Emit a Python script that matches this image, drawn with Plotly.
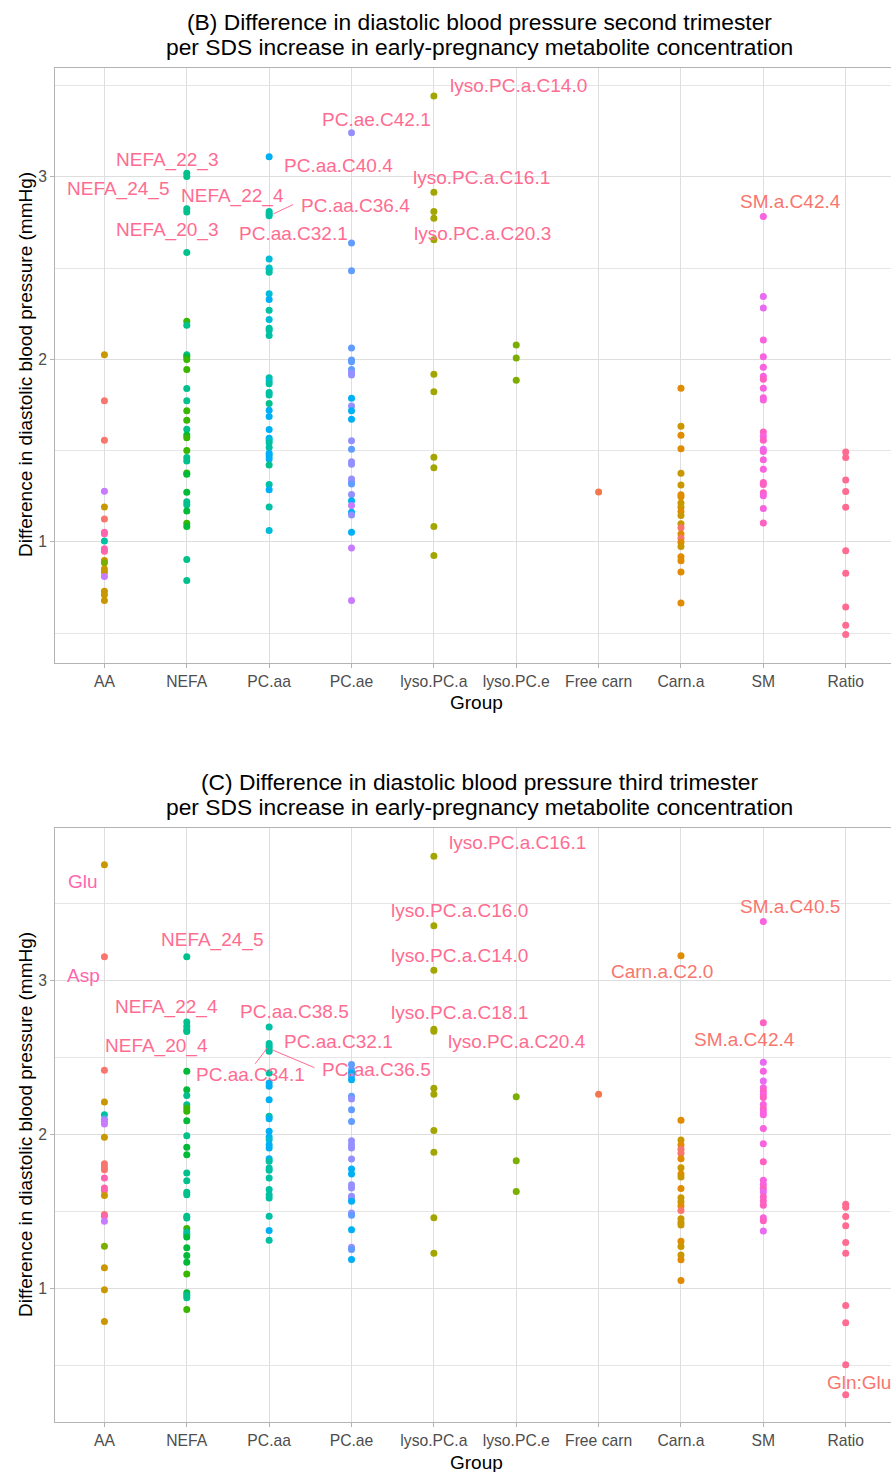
import plotly.graph_objects as go

groups = ["AA", "NEFA", "PC.aa", "PC.ae", "lyso.PC.a", "lyso.PC.e", "Free carn", "Carn.a", "SM", "Ratio"]

palette = {
    "sa": "#F8766D", "or": "#E08B00", "go": "#C99800", "ol": "#A3A500", "li": "#7CAE00",
    "g1": "#00BA38", "g2": "#00C08B", "g3": "#39B600", "te": "#00C1A3", "cy": "#00BCD8",
    "sk": "#00B0F6", "bl": "#619CFF", "pu": "#9590FF", "pv": "#C77CFF", "vi": "#E76BF3",
    "mg": "#F763E0", "pm": "#FF61C3", "pk": "#FF65AE", "rd": "#FF6C91", "fc": "#F2784B",
}

# ---------------- Panel B: second trimester ----------------
b_AA = [2.026, 1.774, 1.557, 1.277, 1.191, 1.126, 1.053, 1.044, 1.005, 0.962, 0.949, 0.898, 0.885,
        0.852, 0.834, 0.810, 0.730, 0.710, 0.679]
b_AA_c = ["go", "sa", "sa", "pv", "go", "sa", "pk", "pk", "te", "pk", "pk", "go", "li", "go", "go",
          "pv", "go", "go", "go"]
b_NEFA = [3.020, 3.002, 2.825, 2.807, 2.586, 2.209, 2.187, 2.026, 2.015, 2.000, 1.945, 1.840, 1.774,
          1.718, 1.667, 1.617, 1.585, 1.570, 1.501, 1.463, 1.443, 1.377, 1.370, 1.272, 1.220, 1.204,
          1.169, 1.102, 1.084, 0.903, 0.789]
b_NEFA_c = ["g2", "g2", "g2", "g2", "g2", "g3", "g2", "g2", "g1", "g3", "g3", "g2", "g2", "g3", "g3",
            "g2", "g1", "g3", "g3", "g2", "g2", "g3", "g1", "g1", "g2", "g2", "g1", "g3", "g1", "g2", "g2"]
b_PCaa = [3.111, 2.810, 2.798, 2.787, 2.550, 2.501, 2.492, 2.477, 2.359, 2.328, 2.269, 2.219, 2.171,
          2.160, 2.131, 1.900, 1.881, 1.867, 1.818, 1.805, 1.758, 1.721, 1.687, 1.616, 1.568, 1.557,
          1.543, 1.517, 1.485, 1.472, 1.454, 1.421, 1.315, 1.286, 1.191, 1.062]
b_PCaa_c = ["sk", "te", "te", "te", "cy", "te", "cy", "te", "cy", "sk", "te", "cy", "te", "te", "te",
            "te", "cy", "te", "te", "te", "g2", "sk", "sk", "sk", "sk", "cy", "te", "te", "sk", "sk",
            "sk", "g2", "te", "sk", "te", "cy"]
b_PCae = [3.242, 2.638, 2.486, 2.062, 1.996, 1.987, 1.945, 1.927, 1.914, 1.787, 1.745, 1.718, 1.672,
          1.554, 1.508, 1.439, 1.426, 1.344, 1.330, 1.317, 1.259, 1.226, 1.199, 1.162, 1.148, 1.053,
          0.967, 0.679]
b_PCae_c = ["pu", "bl", "bl", "bl", "bl", "bl", "bl", "pu", "pu", "sk", "pu", "sk", "sk", "pu", "bl",
            "pu", "pu", "pu", "pu", "bl", "pu", "sk", "pv", "sk", "pu", "sk", "pv", "pv"]
b_lysoa = [3.443, 2.916, 2.810, 2.774, 2.656, 1.918, 1.823, 1.464, 1.406, 1.084, 0.925]
b_lysoe = [2.079, 2.007, 1.885]
b_free = [1.274]
b_carn = [1.842, 1.633, 1.584, 1.511, 1.376, 1.312, 1.258, 1.247, 1.213, 1.190, 1.167, 1.145, 1.100,
          1.077, 1.043, 1.020, 0.998, 0.975, 0.919, 0.896, 0.835, 0.665]
b_carn_c = ["or", "go", "or", "or", "go", "go", "or", "or", "go", "go", "or", "go", "go", "sa", "or",
            "sa", "or", "go", "or", "or", "or", "or"]
b_SM = [2.783, 2.344, 2.281, 2.106, 2.014, 1.957, 1.907, 1.891, 1.842, 1.790, 1.778, 1.602, 1.579,
        1.557, 1.507, 1.495, 1.450, 1.398, 1.326, 1.314, 1.269, 1.253, 1.183, 1.104]
b_SM_c = ["mg", "vi", "vi", "mg", "mg", "mg", "mg", "pm", "mg", "mg", "mg", "pm", "mg", "pm", "vi",
          "mg", "mg", "mg", "pm", "pm", "pm", "mg", "mg", "pm"]
b_ratio = [1.493, 1.462, 1.339, 1.276, 1.190, 0.952, 0.828, 0.643, 0.543, 0.493]

# labels: (text, text x, text y, colour key)
b_labels = [
    ("NEFA_22_3", 0.756, 3.093, "rd"), ("NEFA_24_5", 0.159, 2.934, "rd"),
    ("NEFA_22_4", 1.561, 2.896, "rd"), ("NEFA_20_3", 0.756, 2.710, "rd"),
    ("PC.aa.C40.4", 2.841, 3.060, "rd"), ("PC.aa.C36.4", 3.049, 2.842, "rd"),
    ("PC.aa.C32.1", 2.293, 2.689, "rd"), ("PC.ae.C42.1", 3.305, 3.317, "rd"),
    ("lyso.PC.a.C14.0", 5.024, 3.503, "rd"), ("lyso.PC.a.C16.1", 4.573, 2.995, "rd"),
    ("lyso.PC.a.C20.3", 4.585, 2.689, "rd"), ("SM.a.C42.4", 8.329, 2.863, "sa"),
]
b_segments = [(2.05, 2.797, 2.29, 2.848)]

# ---------------- Panel C: third trimester ----------------
c_AA = [3.751, 3.154, 2.418, 2.212, 2.130, 2.100, 2.086, 2.070, 1.983, 1.812, 1.790, 1.773, 1.719,
        1.654, 1.637, 1.605, 1.482, 1.471, 1.438, 1.276, 1.136, 0.994, 0.788]
c_AA_c = ["go", "sa", "sa", "go", "te", "pu", "pv", "pv", "go", "sa", "sa", "sa", "pk", "pk", "pk",
          "go", "sa", "pk", "pv", "li", "go", "go", "go"]
c_NEFA = [3.154, 2.732, 2.703, 2.680, 2.670, 2.411, 2.292, 2.255, 2.195, 2.173, 2.152, 2.091, 1.994,
          1.918, 1.870, 1.752, 1.702, 1.626, 1.611, 1.471, 1.460, 1.391, 1.369, 1.352, 1.337, 1.266,
          1.216, 1.173, 1.097, 0.974, 0.959, 0.942, 0.866]
c_NEFA_c = ["g2", "g2", "g2", "g2", "g2", "g1", "g1", "g2", "g2", "g3", "g3", "g1", "g2", "g1", "g1",
            "g2", "g2", "g2", "g2", "g2", "g2", "g3", "g2", "te", "g1", "g1", "g1", "g1", "g3", "g1",
            "g2", "g2", "g3"]
c_PCaa = [2.699, 2.591, 2.574, 2.556, 2.541, 2.400, 2.335, 2.314, 2.227, 2.119, 2.104, 2.022, 1.985,
          1.968, 1.935, 1.914, 1.844, 1.827, 1.784, 1.769, 1.719, 1.644, 1.611, 1.590, 1.471, 1.378,
          1.315]
c_PCaa_c = ["te", "te", "te", "te", "te", "te", "sk", "sk", "sk", "te", "sk", "sk", "sk", "cy", "sk",
            "sk", "sk", "te", "te", "te", "te", "te", "te", "te", "te", "sk", "te"]
c_PCae = [2.455, 2.422, 2.400, 2.379, 2.356, 2.249, 2.231, 2.162, 2.086, 1.961, 1.935, 1.914, 1.842,
          1.778, 1.745, 1.676, 1.654, 1.600, 1.583, 1.568, 1.492, 1.477, 1.384, 1.270, 1.255, 1.190]
c_PCae_c = ["bl", "bl", "sk", "bl", "sk", "bl", "pu", "bl", "bl", "pu", "pu", "pu", "pu", "sk", "sk",
            "pu", "pu", "pu", "pu", "sk", "pu", "bl", "sk", "pu", "bl", "sk"]
c_lysoa = [3.806, 3.355, 3.067, 2.685, 2.672, 2.301, 2.263, 2.027, 1.887, 1.462, 1.231]
c_lysoe = [2.247, 1.831, 1.632]
c_free = [2.263]
c_carn = [3.161, 2.094, 1.965, 1.933, 1.906, 1.879, 1.844, 1.785, 1.745, 1.726, 1.651, 1.591, 1.565,
          1.538, 1.508, 1.454, 1.430, 1.414, 1.309, 1.274, 1.220, 1.188, 1.054]
c_carn_c = ["or", "or", "go", "or", "sa", "sa", "or", "go", "or", "go", "or", "go", "go", "or", "sa",
            "go", "go", "go", "or", "go", "go", "or", "or"]
c_SM = [3.384, 2.726, 2.470, 2.411, 2.349, 2.304, 2.282, 2.261, 2.242, 2.196, 2.169, 2.148, 2.129,
        2.040, 1.941, 1.825, 1.704, 1.677, 1.651, 1.629, 1.597, 1.570, 1.543, 1.462, 1.441, 1.376]
c_SM_c = ["mg", "pm", "vi", "mg", "vi", "mg", "pm", "mg", "pm", "mg", "pm", "mg", "mg", "mg", "mg",
          "pm", "mg", "mg", "pm", "vi", "pm", "pm", "pm", "mg", "pm", "vi"]
c_ratio = [1.548, 1.530, 1.470, 1.409, 1.301, 1.231, 0.892, 0.780, 0.508, 0.312]

c_labels = [
    ("Glu", -0.256, 3.645, "pk"), ("Asp", -0.256, 3.033, "pk"),
    ("NEFA_24_5", 1.305, 3.261, "rd"), ("NEFA_22_4", 0.756, 2.831, "rd"),
    ("NEFA_20_4", 0.634, 2.577, "rd"), ("PC.aa.C38.5", 2.305, 2.798, "rd"),
    ("PC.aa.C32.1", 2.841, 2.603, "rd"), ("PC.aa.C34.1", 1.768, 2.388, "rd"),
    ("PC.aa.C36.5", 3.305, 2.420, "rd"), ("lyso.PC.a.C16.1", 5.012, 3.893, "rd"),
    ("lyso.PC.a.C16.0", 4.317, 3.456, "rd"), ("lyso.PC.a.C14.0", 4.317, 3.163, "rd"),
    ("lyso.PC.a.C18.1", 4.317, 2.792, "rd"), ("lyso.PC.a.C20.4", 5.012, 2.603, "rd"),
    ("Carn.a.C2.0", 6.768, 3.059, "sa"), ("SM.a.C40.5", 8.329, 3.482, "sa"),
    ("SM.a.C42.4", 7.768, 2.616, "sa"), ("Gln:Glu", 9.159, 0.394, "sa"),
]
c_segments = [(1.98, 2.565, 1.83, 2.46), (2.04, 2.55, 2.55, 2.435)]

titles = [
    ["(B) Difference in diastolic blood pressure second trimester",
     "per SDS increase in early-pregnancy metabolite concentration"],
    ["(C) Difference in diastolic blood pressure third trimester",
     "per SDS increase in early-pregnancy metabolite concentration"],
]
y_title = "Difference in diastolic blood pressure (mmHg)"
x_title = "Group"

# ---------------- build figure ----------------
W, H = 891, 1472
ML = 55
FONT = "Liberation Sans, Arial, sans-serif"
XRANGE = [-0.6, 9.55]


def px_x(X):
    return (X - ML) / (W - ML)


def px_y(Y):
    return (H - Y) / H


def panel_points(sets):
    xs, ys, cs = [], [], []
    for g, vals, cols in sets:
        for i, v in enumerate(vals):
            xs.append(g)
            ys.append(v)
            c = cols[i] if isinstance(cols, list) else cols
            cs.append(palette[c])
    return xs, ys, cs


b_sets = [("AA", b_AA, b_AA_c), ("NEFA", b_NEFA, b_NEFA_c), ("PC.aa", b_PCaa, b_PCaa_c),
          ("PC.ae", b_PCae, b_PCae_c), ("lyso.PC.a", b_lysoa, "ol"), ("lyso.PC.e", b_lysoe, "li"),
          ("Free carn", b_free, "fc"), ("Carn.a", b_carn, b_carn_c), ("SM", b_SM, b_SM_c),
          ("Ratio", b_ratio, "rd")]
c_sets = [("AA", c_AA, c_AA_c), ("NEFA", c_NEFA, c_NEFA_c), ("PC.aa", c_PCaa, c_PCaa_c),
          ("PC.ae", c_PCae, c_PCae_c), ("lyso.PC.a", c_lysoa, "ol"), ("lyso.PC.e", c_lysoe, "li"),
          ("Free carn", c_free, "fc"), ("Carn.a", c_carn, c_carn_c), ("SM", c_SM, c_SM_c),
          ("Ratio", c_ratio, "rd")]

fig = go.Figure()

panels = [
    dict(sets=b_sets, labels=b_labels, segs=b_segments, top=68.3, bottom=662.7,
         yrange=[0.338, 3.595], xa="x", ya="y", title_y=(22, 47), group_y=702, ytitle_y=365),
    dict(sets=c_sets, labels=c_labels, segs=c_segments, top=828, bottom=1422,
         yrange=[0.136, 3.99], xa="x2", ya="y2", title_y=(782, 807), group_y=1462, ytitle_y=1125),
]

annotations = []
shapes = []
for k, p in enumerate(panels):
    xs, ys, cs = panel_points(p["sets"])
    fig.add_trace(go.Scatter(x=xs, y=ys, mode="markers", xaxis=p["xa"], yaxis=p["ya"],
                             marker=dict(color=cs, size=7, line=dict(width=0)),
                             showlegend=False, hoverinfo="x+y"))
    ax_suffix = "" if k == 0 else "2"
    dom = [px_y(p["bottom"]), px_y(p["top"])]
    fig.update_layout(**{
        "xaxis" + ax_suffix: dict(
            type="category", categoryorder="array", categoryarray=groups,
            range=XRANGE, domain=[0, 1], anchor=p["ya"],
            showgrid=True, gridcolor="#DEDEDE", gridwidth=1,
            showline=True, linecolor="#B3B3B3", linewidth=1, mirror=True,
            ticks="outside", ticklen=4, tickcolor="#B3B3B3",
            tickfont=dict(family=FONT, size=15.7, color="#4D4D4D"),
            zeroline=False, automargin=False, fixedrange=True),
        "yaxis" + ax_suffix: dict(
            range=p["yrange"], domain=dom, anchor=p["xa"],
            tickvals=[1, 2, 3], ticktext=["1", "2", "3"],
            showgrid=True, gridcolor="#DEDEDE", gridwidth=1,
            minor=dict(tickvals=[0.5, 1.5, 2.5, 3.5], showgrid=True, gridcolor="#E6E6E6",
                       gridwidth=1, ticks=""),
            showline=True, linecolor="#B3B3B3", linewidth=1, mirror=True,
            ticks="outside", ticklen=4, tickcolor="#B3B3B3",
            tickfont=dict(family=FONT, size=15.7, color="#4D4D4D"),
            zeroline=False, automargin=False, fixedrange=True),
    })
    for text, tx, ty, ck in p["labels"]:
        annotations.append(dict(x=tx, y=ty, xref=p["xa"], yref=p["ya"], text=text,
                                showarrow=False, xanchor="center", yanchor="middle",
                                font=dict(family=FONT, size=19, color=palette[ck])))
    for x0, y0, x1, y1 in p["segs"]:
        shapes.append(dict(type="line", xref=p["xa"], yref=p["ya"], x0=x0, y0=y0, x1=x1, y1=y1,
                           line=dict(color=palette["rd"], width=1)))
    for line_text, ty in zip(titles[k], p["title_y"]):
        annotations.append(dict(x=px_x(479), y=px_y(ty), xref="paper",
                                yref="paper", text=line_text, showarrow=False, xanchor="center",
                                yanchor="middle", align="center",
                                font=dict(family=FONT, size=22.8, color="#000000")))
    annotations.append(dict(x=px_x(476), y=px_y(p["group_y"]), xref="paper",
                            yref="paper", text=x_title, showarrow=False, xanchor="center",
                            yanchor="middle", font=dict(family=FONT, size=19, color="#000000")))
    annotations.append(dict(x=px_x(25), y=px_y(p["ytitle_y"]), xref="paper",
                            yref="paper", text=y_title, showarrow=False, xanchor="center",
                            yanchor="middle", textangle=-90,
                            font=dict(family=FONT, size=19, color="#000000")))

fig.update_layout(width=W, height=H, margin=dict(l=ML, r=0, t=0, b=0),
                  paper_bgcolor="white", plot_bgcolor="white",
                  annotations=annotations, shapes=shapes, showlegend=False)

# remove the default page margin so the figure fills the browser window exactly
fig.write_html("out.html", config={"displayModeBar": False},
               post_script="document.body.style.margin='0';document.body.style.overflow='hidden';")
